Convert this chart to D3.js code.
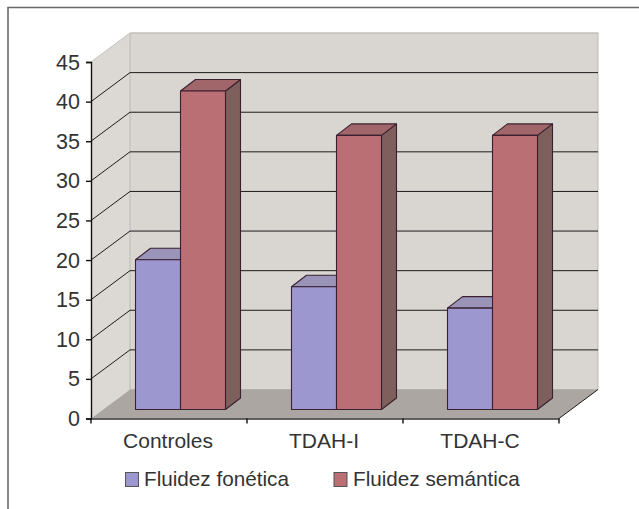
<!DOCTYPE html>
<html><head><meta charset="utf-8">
<script src="https://cdn.jsdelivr.net/npm/d3@7"></script>
<style>html,body{margin:0;padding:0;background:#fff}svg{display:block}text{font-family:"Liberation Sans",Arial,sans-serif;fill:#333}</style>
</head><body><script>
const categories=["Controles","TDAH-I","TDAH-C"];
const seriesNames=["Fluidez fonética","Fluidez semántica"];
const fonetica=[18.9,15.5,12.8];
const semantica=[40.2,34.6,34.6];
const yTicks=[0,5,10,15,20,25,30,35,40,45];
const faceColors=[{front:"#9d97cf",top:"#9a94b8",side:"#6e6a94"},{front:"#b96f74",top:"#a0666a",side:"#7f5f5c"}];

const W=639,H=509;
const svg=d3.select("body").append("svg").attr("width",W).attr("height",H);
const y=d3.scaleLinear().domain([0,45]).range([418.5,62]);
const x=d3.scaleBand().domain(categories).range([91,559]);
const depth={dx:39,dy:-29};
const barDepth={dx:15,dy:-11.5};
const barOff={dx:0,dy:-9};
const barX=d3.scaleBand().domain(d3.range(2)).range([44.5,134.5]);
const line=d3.line();

// frame: only the top and left edges show in the picture
svg.append("path").attr("fill","none").attr("stroke","#6a6a6a").attr("stroke-width",1.6)
  .attr("d",line([[8,H],[8,7.5],[W,7.5]]));

// walls
const x0=x.range()[0],x1=x.range()[1];
svg.append("path").attr("d",line([[x0,y(45)],[x0+depth.dx,y(45)+depth.dy],[x0+depth.dx,y(0)+depth.dy],[x0,y(0)]])+"Z").attr("fill","#dcd9d5");
svg.append("path").attr("d",line([[x0+depth.dx,y(45)+depth.dy],[x1+depth.dx,y(45)+depth.dy],[x1+depth.dx,y(0)+depth.dy],[x0+depth.dx,y(0)+depth.dy]])+"Z").attr("fill","#d9d5d1").attr("stroke","#bdbab6");
svg.append("path").attr("d",line([[x0,y(0)],[x0+depth.dx,y(0)+depth.dy],[x1+depth.dx,y(0)+depth.dy],[x1,y(0)]])+"Z").attr("fill","#aba6a2");

// grid
yTicks.filter(d=>d>0).forEach(d=>{
  svg.append("path").attr("fill","none").attr("stroke",d===45?"#c4c2be":"#1c1c1c").attr("stroke-width",1)
    .attr("d",line([[x0,y(d)],[x0+depth.dx,y(d)+depth.dy],[x1+depth.dx,y(d)+depth.dy]]));
});
svg.append("path").attr("fill","none").attr("stroke","#1c1c1c").attr("d",line([[x1,y(0)],[x1+depth.dx,y(0)+depth.dy]]));

// bars
function bar(cat,si,v){
  const l=x(cat)+barX(si)+barOff.dx, r=l+barX.bandwidth();
  const b=y(0)+barOff.dy, t=y(v)+barOff.dy, c=faceColors[si];
  const g=svg.append("g").attr("stroke","#3a2030").attr("stroke-width",1.1).attr("stroke-linejoin","round");
  g.append("path").attr("fill",c.side).attr("d",line([[r,t],[r+barDepth.dx,t+barDepth.dy],[r+barDepth.dx,b+barDepth.dy],[r,b]])+"Z");
  g.append("path").attr("fill",c.top).attr("d",line([[l,t],[l+barDepth.dx,t+barDepth.dy],[r+barDepth.dx,t+barDepth.dy],[r,t]])+"Z");
  g.append("rect").attr("x",l).attr("y",t).attr("width",r-l).attr("height",b-t).attr("fill",c.front);
}
categories.forEach((c,i)=>{bar(c,0,fonetica[i]);bar(c,1,semantica[i]);});

// axes
const yAxis=d3.axisLeft(y).tickValues(yTicks).tickSize(5).tickPadding(6);
const ga=svg.append("g").attr("transform",`translate(${x0},0)`).call(yAxis);
ga.selectAll("text").style("font-size","21.5px").attr("dy","0.33em");
ga.selectAll("line,path").attr("stroke","#111").attr("stroke-width",1.4);
const xAxis=d3.axisBottom(x).tickValues(categories).tickSize(0).tickPadding(15);
const gx=svg.append("g").attr("transform",`translate(0,${y(0)})`).call(xAxis);
gx.select("path").attr("stroke","#333").attr("stroke-width",1.6);
gx.selectAll("text").style("font-size","21px").attr("dx","-1");
[0,1,2,3].forEach(i=>{
  const px=x0+i*x.step();
  svg.append("line").attr("x1",px).attr("x2",px).attr("y1",y(0)).attr("y2",y(0)+5).attr("stroke","#111").attr("stroke-width",1.4);
});

// legend
const leg=[{x:125,tx:144},{x:333.5,tx:353}];
seriesNames.forEach((n,i)=>{
  svg.append("rect").attr("x",leg[i].x+.5).attr("y",472.5).attr("width",13).attr("height",14).attr("fill",faceColors[i].front).attr("stroke","#555");
  svg.append("text").attr("x",leg[i].tx).attr("y",485.5).style("font-size","20.7px").text(n);
});
</script></body></html>
